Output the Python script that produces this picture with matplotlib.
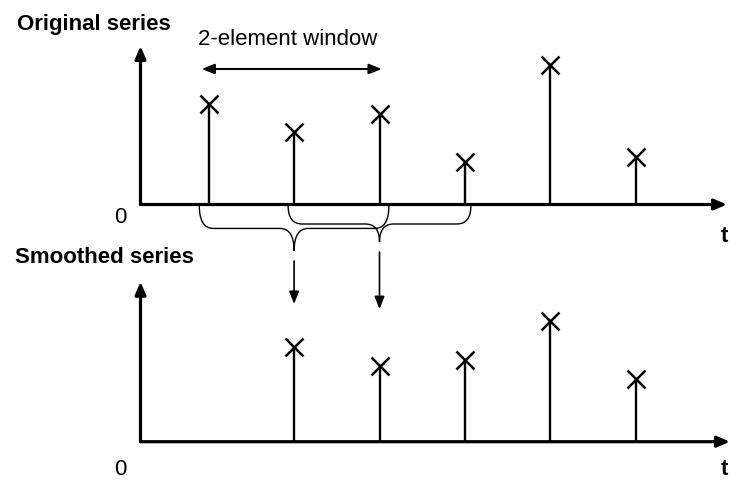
import matplotlib
matplotlib.use('Agg')
import matplotlib.pyplot as plt
from matplotlib.path import Path
from matplotlib.patches import PathPatch

plt.rcParams['font.family'] = ['Liberation Sans', 'DejaVu Sans']

# ---- data ----
t_orig = [1, 2, 3, 4, 5, 6]
orig_values = [6.34, 4.56, 5.71, 2.71, 8.77, 2.99]
t_smooth = [2, 3, 4, 5, 6]
smooth_values = [5.9, 4.75, 5.13, 7.56, 3.92]
window_centers = [2, 3]
title_top = 'Original series'
title_bottom = 'Smoothed series'
window_label = '2-element window'
axis_label = 't'
zero_label = '0'

W, H = 730, 481
fig = plt.figure(figsize=(W / 100, H / 100), dpi=100)


def px_rect(x0, y0, x1, y1):
    return [x0 / W, 1 - y1 / H, (x1 - x0) / W, (y1 - y0) / H]


def px_to_t(px):
    return 1 + (px - 208.7) / 85.4


ax1 = fig.add_axes(px_rect(140.5, 47, 727, 205.5))
ax2 = fig.add_axes(px_rect(140.5, 282.7, 730, 442.7))
ax1.set_xlim(px_to_t(140.5), px_to_t(727))
ax2.set_xlim(px_to_t(140.5), px_to_t(730))
ax1.set_ylim(0, 10)
ax2.set_ylim(0, 10)

for ax in (ax1, ax2):
    ax.set_axis_off()
    head = '-|>,head_length=0.75,head_width=0.32'
    ax.annotate('', xy=(1, 0), xytext=(0, 0), xycoords='axes fraction',
                arrowprops=dict(arrowstyle=head, lw=2.3, color='black',
                                shrinkA=0, shrinkB=0))
    ax.annotate('', xy=(0, 1), xytext=(0, 0), xycoords='axes fraction',
                arrowprops=dict(arrowstyle=head, lw=2.3, color='black',
                                shrinkA=0, shrinkB=0))

# stems + markers
ax1.vlines(t_orig, 0, orig_values, color='black', lw=1.7, clip_on=False)
ax1.plot(t_orig, orig_values, 'x', color='black', ms=13, mew=1.8, clip_on=False)
ax2.vlines(t_smooth, 0, smooth_values, color='black', lw=1.7, clip_on=False)
ax2.plot(t_smooth, smooth_values, 'x', color='black', ms=13, mew=1.8, clip_on=False)

# window double arrow and label
ax1.annotate('', xy=(3.026, 8.55), xytext=(0.918, 8.55),
             arrowprops=dict(arrowstyle='<|-|>,head_length=0.75,head_width=0.3',
                             lw=1.5, color='black', shrinkA=0, shrinkB=0),
             annotation_clip=False)
ax1.text(1.92, 10.13, window_label, ha='center', va='baseline', fontsize=16,
         clip_on=False)

# braces
brace_specs = [  # (half width, horizontal y, tip y)
    (1.11, -1.51, -2.93),
    (1.07, -1.23, -2.37),
]
rx = 0.165
ytop = -0.08
for c, (hw, yh, ytip) in zip(window_centers, brace_specs):
    x0, x1 = c - hw, c + hw
    verts = [(x0, ytop), (x0, yh), (x0 + rx, yh), (c - rx, yh), (c, yh), (c, ytip),
             (c, ytip), (c, yh), (c + rx, yh), (x1 - rx, yh), (x1, yh), (x1, ytop)]
    codes = [Path.MOVETO, Path.CURVE3, Path.CURVE3, Path.LINETO, Path.CURVE3, Path.CURVE3,
             Path.MOVETO, Path.CURVE3, Path.CURVE3, Path.LINETO, Path.CURVE3, Path.CURVE3]
    ax1.add_patch(PathPatch(Path(verts, codes), fill=False, lw=1.0,
                            edgecolor='black', clip_on=False))

# down arrows from braces to smoothed values
arrow_starts = [-3.56, -3.0]
arrow_tips = [8.61, 8.29]
for c, ys, ye in zip(window_centers, arrow_starts, arrow_tips):
    ax2.annotate('', xy=(c, ye), xycoords='data', xytext=(c, ys),
                 textcoords=ax1.transData,
                 arrowprops=dict(arrowstyle='-|>,head_length=0.75,head_width=0.3',
                                 lw=1.2, color='black', shrinkA=0, shrinkB=0),
                 annotation_clip=False)

# text labels
fig.text(17 / W, 1 - 30 / H, title_top, fontsize=16, weight='bold', va='baseline')
fig.text(15 / W, 1 - 263 / H, title_bottom, fontsize=16, weight='bold', va='baseline')
fig.text(120.5 / W, 1 - 217.5 / H, zero_label, fontsize=16, ha='center', va='center')
fig.text(120.5 / W, 1 - 469.5 / H, zero_label, fontsize=16, ha='center', va='center')
fig.text(724 / W, 1 - 237 / H, axis_label, fontsize=16, weight='bold', ha='center', va='center')
fig.text(724 / W, 1 - 470 / H, axis_label, fontsize=16, weight='bold', ha='center', va='center')

fig.savefig('out.png', dpi=100)
